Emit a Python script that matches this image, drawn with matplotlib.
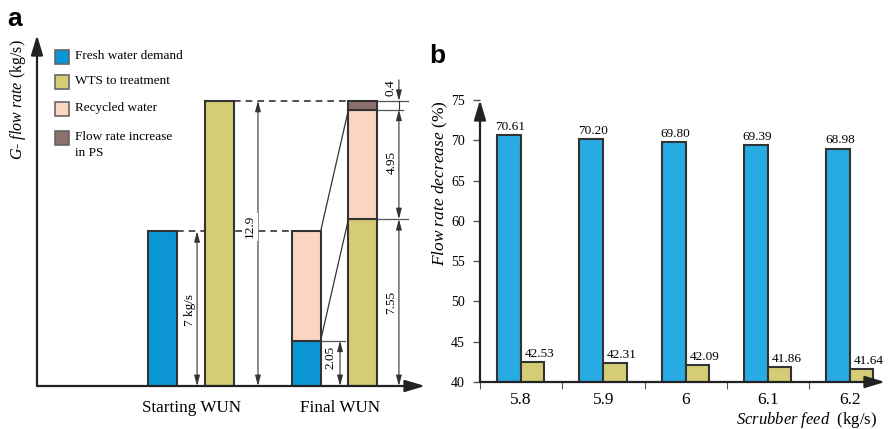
import numpy as np
import matplotlib
matplotlib.use("Agg")
import matplotlib.pyplot as plt
from matplotlib.patches import Rectangle

plt.rcParams['font.family'] = ['Liberation Serif', 'DejaVu Serif']
plt.rcParams['mathtext.fontset'] = 'custom'
plt.rcParams['mathtext.rm'] = 'Liberation Serif'
plt.rcParams['mathtext.it'] = 'Liberation Serif:italic'

# panel a: flow rates (kg/s)
fresh_start = 7.0
wts_start = 12.9
fresh_final = 2.05
recycled = 4.95
wts_final = 7.55
ps_increase = 0.4
wun_labels = ["Starting WUN", "Final WUN"]
legend_labels = ["Fresh water demand", "WTS to treatment", "Recycled water",
                 "Flow rate increase\nin PS"]

# panel b: flow rate decrease (%)
scrubber_feed = ["5.8", "5.9", "6", "6.1", "6.2"]
decrease_fresh = [70.61, 70.20, 69.80, 69.39, 68.98]
decrease_wts = [42.53, 42.31, 42.09, 41.86, 41.64]

BLUE_A = "#0a96d5"
BLUE_B = "#27abe2"
YELLOW = "#d5cd76"
PINK = "#f9d5c2"
BROWN = "#8b706b"
EDGE = "#333333"
LINE = "#222222"

W, H = 889, 429
fig = plt.figure(figsize=(W / 100, H / 100), dpi=100)


def box(l, t, r, b):
    return [l / W, 1 - b / H, (r - l) / W, (b - t) / H]


def fx(x):
    return x / W


def fy(y):
    return 1 - y / H


axis_arrow = dict(arrowstyle="-|>,head_length=0.6,head_width=0.18", color=LINE,
                  lw=1.6, shrinkA=0, shrinkB=0, mutation_scale=20)

# ---------------- panel a ----------------
axa = fig.add_axes(box(37, 35, 425, 386))
axa.set_xlim(0, 13.38)
axa.set_ylim(0, 15.88)
axa.axis("off")

bw = 1.0
x_s_fresh, x_s_wts, x_f_left, x_f_right = 4.33, 6.31, 9.28, 11.24
bar_kw = dict(edgecolor=EDGE, linewidth=1.5, zorder=3)
axa.bar(x_s_fresh, fresh_start, bw, color=BLUE_A, **bar_kw)
axa.bar(x_s_wts, wts_start, bw, color=YELLOW, **bar_kw)
axa.bar(x_f_left, fresh_final, bw, color=BLUE_A, **bar_kw)
axa.bar(x_f_left, recycled, bw, bottom=fresh_final, color=PINK, **bar_kw)
axa.bar(x_f_right, wts_final, bw, color=YELLOW, **bar_kw)
axa.bar(x_f_right, recycled, bw, bottom=wts_final, color=PINK, **bar_kw)
axa.bar(x_f_right, ps_increase, bw, bottom=wts_final + recycled, color=BROWN, **bar_kw)

# dashed guide lines
dash = dict(ls=(0, (4, 3)), color=EDGE, lw=1.2, zorder=1)
axa.plot([x_s_fresh + bw / 2, x_f_left - bw / 2], [fresh_start] * 2, **dash)
axa.plot([x_s_wts + bw / 2, x_f_right - bw / 2], [wts_start] * 2, **dash)

# connecting lines between final bars
thin = dict(color=EDGE, lw=0.9, zorder=2)
axa.plot([x_f_left + bw / 2, x_f_right - bw / 2], [fresh_final + recycled, wts_final + recycled], **thin)
axa.plot([x_f_left + bw / 2, x_f_right - bw / 2], [fresh_final, wts_final], **thin)

# extension lines
ext = dict(color="#555555", lw=0.9, zorder=2)
axa.plot([x_f_right + bw / 2, 12.79], [wts_start] * 2, **ext)
axa.plot([x_f_right + bw / 2, 12.62], [wts_final + recycled] * 2, **ext)
axa.plot([x_f_right + bw / 2, 12.79], [wts_final] * 2, **ext)
axa.plot([x_f_left + bw / 2, 10.62], [fresh_final] * 2, **ext)

dim_arrow = dict(arrowstyle="<|-|>,head_length=0.45,head_width=0.12", color=EDGE,
                 lw=0.8, shrinkA=0, shrinkB=0, mutation_scale=14)


def dim(x, y0, y1):
    axa.annotate("", xy=(x, y1), xytext=(x, y0), arrowprops=dim_arrow, zorder=2)


dim(5.52, 0, fresh_start)
dim(7.62, 0, wts_start)
dim(10.45, 0, fresh_final)
dim(12.48, 0, wts_final)
dim(12.48, wts_final, wts_final + recycled)
axa.plot([12.48, 12.48], [wts_final + recycled, wts_start], color=EDGE, lw=0.8)
axa.annotate("", xy=(12.48, wts_start), xytext=(12.48, 13.85),
             arrowprops=dict(dim_arrow, arrowstyle="-|>,head_length=0.45,head_width=0.12"))

dim_txt = dict(rotation=90, ha="center", va="center", fontsize=9.5, zorder=4)
axa.text(5.28, 3.44, "7 kg/s", **dim_txt)
axa.text(7.34, 7.2, "12.9", bbox=dict(fc="white", ec="none", pad=1.5), **dim_txt)
axa.text(10.12, 1.27, "2.05", **dim_txt)
axa.text(12.22, 3.8, "7.55", **dim_txt)
axa.text(12.22, 10.1, "4.95", **dim_txt)
axa.text(12.18, 13.5, "0.4", **dim_txt)

axa.annotate("", xy=(0, 1), xytext=(0, 0), xycoords="axes fraction", arrowprops=axis_arrow)
axa.annotate("", xy=(1, 0), xytext=(0, 0), xycoords="axes fraction", arrowprops=axis_arrow)

fig.text(fx(192), fy(408), wun_labels[0], ha="center", va="center", fontsize=12.3)
fig.text(fx(340), fy(408), wun_labels[1], ha="center", va="center", fontsize=12.3)
fig.text(fx(18), fy(100), r"$\mathit{G}$- $\mathit{flow\ rate}$ (kg/s)", rotation=90,
         ha="center", va="center", fontsize=11.5)

# legend
leg_colors = [BLUE_A, YELLOW, PINK, BROWN]
leg_y = [57, 82, 109, 138]
for c, y, lab in zip(leg_colors, leg_y, legend_labels):
    fig.add_artist(Rectangle((fx(55), fy(y + 7)), 14 / W, 14 / H, transform=fig.transFigure,
                             facecolor=c, edgecolor="#666666", lw=1.2))
    for k, line in enumerate(lab.split("\n")):
        fig.text(fx(75), fy(y - 1 + 16 * k), line, ha="left", va="center", fontsize=9.5)

fig.text(fx(15), fy(19), "a", family="Liberation Sans", weight="bold", fontsize=19,
         ha="center", va="center")
fig.text(fx(437), fy(56), "b", family="Liberation Sans", weight="bold", fontsize=19,
         ha="center", va="center")

# ---------------- panel b ----------------
axb = fig.add_axes(box(480, 100, 885, 382))
x = np.arange(len(scrubber_feed))
wb, wy = 0.293, 0.28
axb.bar(x - wb / 2, decrease_fresh, wb, color=BLUE_B, **bar_kw)
axb.bar(x + wy / 2, decrease_wts, wy, color=YELLOW, **bar_kw)
axb.set_xlim(-0.5, 4.42)
axb.set_ylim(40, 75)
for s in axb.spines.values():
    s.set_visible(False)
axb.set_yticks(np.arange(40, 76, 5))
axb.tick_params(axis="y", direction="out", length=5, width=1, color="#555555", pad=6,
                labelsize=10)
axb.set_xticks(x)
axb.set_xticklabels(scrubber_feed)
axb.set_xticks(np.arange(len(scrubber_feed)) - 0.5, minor=True)
axb.tick_params(axis="x", which="major", length=0, pad=7, labelsize=12.5)
axb.tick_params(axis="x", which="minor", direction="out", length=5, width=0.8, color="#555555")
axb.annotate("", xy=(0, 1), xytext=(0, 0), xycoords="axes fraction", arrowprops=axis_arrow)
axb.annotate("", xy=(1, 0), xytext=(0, 0), xycoords="axes fraction", arrowprops=axis_arrow)

for xi, v in zip(x, decrease_fresh):
    axb.annotate(f"{v:.2f}", (xi - wb / 2, v), xytext=(1, 1.5), textcoords="offset points",
                 ha="center", va="bottom", fontsize=9.5)
for xi, v in zip(x, decrease_wts):
    axb.annotate(f"{v:.2f}", (xi + wy / 2, v), xytext=(5, 1.5), textcoords="offset points",
                 ha="center", va="bottom", fontsize=9.5)

fig.text(fx(440), fy(183), r"$\mathit{Flow\ rate\ decrease}$ (%)", rotation=90,
         ha="center", va="center", fontsize=12.5)
fig.text(fx(877), fy(420), r"$\mathit{Scrubber\ feed}$  (kg/s)", ha="right", va="center",
         fontsize=12)

fig.savefig("out.png", dpi=100)
